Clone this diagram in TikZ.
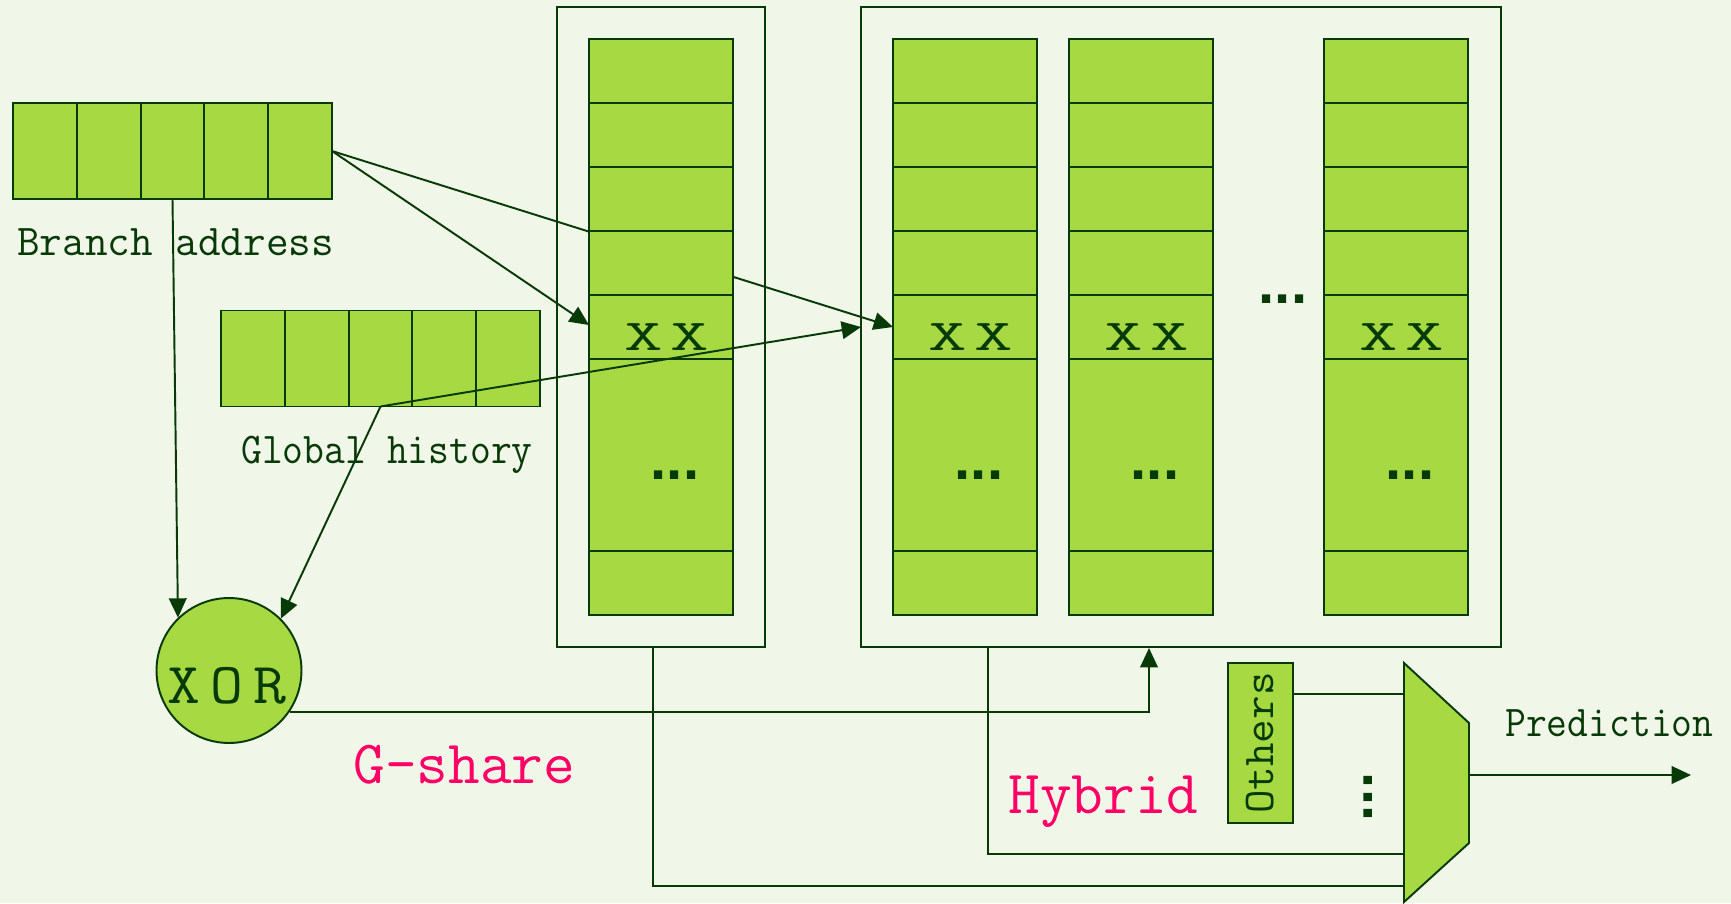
\documentclass[tikz,border=0pt]{standalone}
\usepackage{fontspec}
\newfontfamily\dotfont{Liberation Sans}
\usetikzlibrary{arrows.meta,positioning}

\definecolor{bgc}{RGB}{240,246,232}
\definecolor{leaf}{RGB}{166,217,66}
\definecolor{ink}{RGB}{8,58,8}
\definecolor{rose}{RGB}{255,0,102}

\newcommand\squeeze[2]{\scalebox{#1}[1]{#2}}
\newcommand\xxmark{\squeeze{1.7}{X}\kern4.5pt\squeeze{1.7}{X}}

\tikzset{
  wire/.style={draw=ink, line width=1.1pt},
  arr/.style={wire, -{Triangle[length=11pt,width=10pt]}},
  cell/.style={wire, fill=leaf, minimum width=1.276cm, minimum height=1.92cm, inner sep=0pt, outer sep=0pt},
  tbl/.style={wire, fill=leaf, minimum width=2.88cm, minimum height=11.52cm, inner sep=0pt, outer sep=0pt, anchor=north west},
  frame/.style={wire, inner sep=0pt, outer sep=0pt, anchor=north west},
  lbl/.style={text=ink, font=\ttfamily\fontsize{25}{30}\selectfont, inner sep=0pt},
  tag/.style={text=rose, font=\ttfamily\fontsize{35}{42}\selectfont, inner sep=0pt},
  dots/.style={text=ink, font=\dotfont\bfseries\fontsize{33}{36}\selectfont, inner sep=0pt, anchor=base},
}

\begin{document}
\begin{tikzpicture}[x=0.02cm,y=-0.02cm]
\fill[bgc] (0,0) rectangle (1731,903);
\useasboundingbox (0,0) rectangle (1731,903);

\foreach \i in {1,...,5} {
  \node[cell] (ba\i) at (-18.9+63.8*\i,151) {};
  \node[cell] (gh\i) at (189.1+63.8*\i,358.5) {};
}

\coordinate (gs-in) at (589,325);
\coordinate (ha-in) at (893,327);
\coordinate (hy-in) at (861,327);
\coordinate (hy-sel) at (1149,648);
\coordinate (gs-out) at (653,647);
\coordinate (hy-out) at (988,647);
\coordinate (mux-a) at (1404,886);
\coordinate (mux-b) at (1404,854);
\coordinate (mux-c) at (1404,694);
\coordinate (mux-o) at (1469,775);
\coordinate (pred-end) at (1691,775);

\draw[arr] (ba5.east) -- (ha-in);

\node[frame, minimum width=4.16cm, minimum height=12.8cm] (gsbox) at (557,7) {};
\node[frame, minimum width=12.8cm, minimum height=12.8cm] (hybox) at (861,7) {};

\foreach \n/\x in {gs/589,ha/893,hb/1069,hc/1324} {
  \node[tbl] (\n) at (\x,39) {};
  \foreach \y in {103,167,231,295,359,551}
    \draw[wire] (\x,\y) -- ++(144,0);
  \node[lbl, anchor=base] (\n-xx) at (\x+77.5,350) {\xxmark};
  \node[dots] (\n-dots) at (\x+86,479) {...};
}
\node[dots] (hy-dots) at (1283,303) {...};

\node[circle, wire, fill=leaf, minimum size=2.9cm, inner sep=0pt] (xor) at (229,670.5) {};
\node[lbl, font=\ttfamily\fontsize{33}{38}\selectfont, anchor=base] (xor-txt) at (227,703) {\squeeze{1.1}{X}\kern6pt\squeeze{1.1}{O}\kern6pt\squeeze{1.1}{R}};

\draw[arr] (ba5.east) -- (gs-in);
\draw[arr] (ba3.south) -- (xor.134);
\draw[arr] (gh3.south) -- (xor.45);
\draw[arr] (gh3.south) -- (hy-in);
\draw[arr] (xor.-34) -| (hy-sel);

\filldraw[wire, fill=leaf] (1404,663) -- (1469,723) -- (1469,843) -- (1404,902) -- cycle;
\node[wire, fill=leaf, minimum width=1.3cm, minimum height=3.2cm, inner sep=0pt, text=ink,
  font=\ttfamily\fontsize{25}{30}\selectfont] (others) at (1260.5,743) {\rotatebox{90}{\squeeze{1.04}{Others}}};
\node[dots, rotate=90] (mux-dots) at (1372,797) {...};

\draw[wire] (gs-out) |- (mux-a);
\draw[wire] (hy-out) |- (mux-b);
\draw[wire] (others.east |- mux-c) -- (mux-c);
\draw[arr] (mux-o) -- (pred-end);

\node[lbl, anchor=base west] (ba-lbl) at (17,255) {Branch address};
\node[lbl, anchor=base west] (gh-lbl) at (241,463) {\squeeze{0.92}{Global history}};
\node[lbl, anchor=base west] (pred) at (1505,736) {\squeeze{0.92}{Prediction}};
\node[tag, anchor=base west] (gshare) at (353,783) {G-share};
\node[tag, anchor=base west] (hybrid) at (1008,813) {Hybrid};
\end{tikzpicture}
\end{document}
